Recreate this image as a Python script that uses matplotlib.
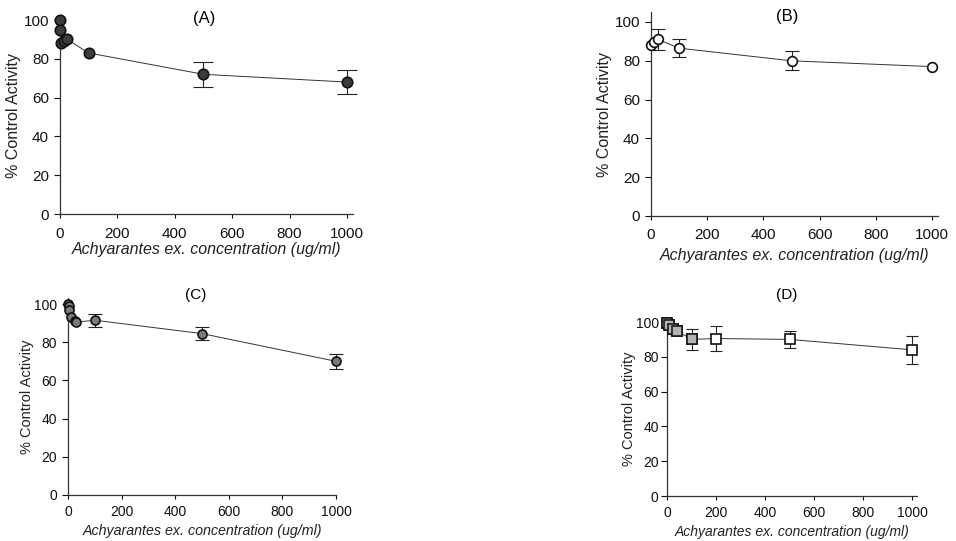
import matplotlib.pyplot as plt

plt.rcParams['font.family'] = ['Liberation Sans', 'DejaVu Sans']

# panel A: filled dark circles
a_x = [0, 0, 5, 15, 25, 100, 500, 1000]
a_y = [100, 95, 88, 89, 90, 83, 72, 68]
a_err = [0, 0, 0, 0, 0, 0, 6.5, 6]

# panel B: open circles
b_x = [0, 10, 25, 100, 500, 1000]
b_y = [88, 89.5, 91, 86.5, 80, 77]
b_err = [0, 0, 5.5, 4.5, 5, 0]

# panel C: grey circles
c_x = [0, 2, 5, 10, 25, 30, 100, 500, 1000]
c_y = [100, 99, 97, 93, 91, 90.5, 91.5, 84.5, 70]
c_err = [0, 0, 0, 0, 0, 0, 3.5, 3.5, 4]

# panel D: open squares
d_x = [0, 10, 25, 40, 100, 200, 500, 1000]
d_y = [99.5, 98, 96, 95, 90, 90.5, 90, 84]
d_err = [0, 0, 0, 0, 6, 7, 5, 8]

xlabel = 'Achyarantes ex. concentration (ug/ml)'
ylabel = '% Control Activity'

W, H = 956, 541
fig = plt.figure(figsize=(W / 100, H / 100), dpi=100)


def make_axes(x0, x1000, y0, y100, xmax, ymax):
    sx = (x1000 - x0) / 1000
    sy = (y0 - y100) / 100
    ax = fig.add_axes([x0 / W, (H - y0) / H, sx * xmax / W, sy * ymax / H])
    ax.set_xlim(0, xmax)
    ax.set_ylim(0, ymax)
    return ax


def draw_panel(ax, xs, ys, errs, marker, face, ms, cap, fs_tick, fs_x, fs_y,
               xpad, ypad, ylpad, xlpad):
    ax.plot(xs, ys, '-', color='#333333', lw=0.7, zorder=2)
    ex = [x for x, e in zip(xs, errs) if e > 0]
    ey = [y for y, e in zip(ys, errs) if e > 0]
    ee = [e for e in errs if e > 0]
    ax.errorbar(ex, ey, yerr=ee, fmt='none', ecolor='#222222', elinewidth=0.8,
                capsize=cap, capthick=0.8, clip_on=False, zorder=2)
    ax.plot(xs, ys, marker, ms=ms, mfc=face, mec='#111111', mew=1.2,
            clip_on=False, zorder=3)
    ax.set_xticks([0, 200, 400, 600, 800, 1000])
    ax.set_yticks([0, 20, 40, 60, 80, 100])
    ax.spines['top'].set_visible(False)
    ax.spines['right'].set_visible(False)
    for s in ['left', 'bottom']:
        ax.spines[s].set_linewidth(0.9)
        ax.spines[s].set_color('#333333')
    ax.tick_params(axis='x', direction='out', length=3, width=0.8,
                   labelsize=fs_tick, colors='#111111', pad=xpad)
    ax.tick_params(axis='y', direction='out', length=4, width=0.8,
                   labelsize=fs_tick, colors='#111111', pad=ypad)
    ax.set_xlabel(xlabel, fontsize=fs_x, style='italic', color='#222222', labelpad=xlpad)
    ax.set_ylabel(ylabel, fontsize=fs_y, color='#222222', labelpad=ylpad)


ax_a = make_axes(60, 347, 214, 20, 1020, 102)
draw_panel(ax_a, a_x, a_y, a_err, 'o', '#3c3c3c', 7.5, 7, 11, 11.5, 11.5, 6, 4, 2, 1)

ax_b = make_axes(651, 932, 216, 22, 1020, 105)
draw_panel(ax_b, b_x, b_y, b_err, 'o', 'white', 7, 5, 11, 11.5, 11.5, 6, 4, 2, 4)

ax_c = make_axes(68, 336, 495, 304, 1000, 103)
draw_panel(ax_c, c_x, c_y, c_err, 'o', '#7a7a7a', 6.5, 5, 10, 10.3, 10.5, 4, 4, 0, 4)

ax_d = make_axes(667, 912, 496, 322, 1020, 100)
draw_panel(ax_d, d_x, d_y, d_err, 's', 'white', 7.5, 4.5, 10, 10, 10.5, 4, 2, 0, 4)
# the first low-dose squares are shaded grey
ax_d.plot(d_x[:5], d_y[:5], 's', ms=7.5, mfc='#b4b4b4', mec='#111111',
          mew=1.1, clip_on=False, zorder=4)

fig.text(204 / W, 1 - 18 / H, '(A)', fontsize=12, ha='center', va='center')
fig.text(787 / W, 1 - 17 / H, '(B)', fontsize=12, ha='center', va='center')
fig.text(196 / W, 1 - 295 / H, '(C)', fontsize=11, ha='center', va='center')
fig.text(787 / W, 1 - 295 / H, '(D)', fontsize=11, ha='center', va='center')

fig.savefig('out.png', dpi=100)
